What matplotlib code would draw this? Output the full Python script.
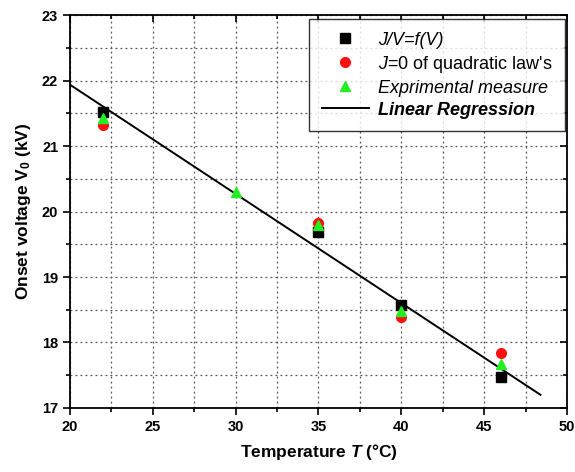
import matplotlib
matplotlib.use("Agg")
import matplotlib.pyplot as plt
import matplotlib.lines as mlines
import numpy as np
from matplotlib.ticker import MultipleLocator

plt.rcParams['font.family'] = ['Liberation Sans', 'DejaVu Sans']
plt.rcParams['mathtext.fontset'] = 'custom'
plt.rcParams['mathtext.rm'] = 'Liberation Sans:bold'
plt.rcParams['mathtext.it'] = 'Liberation Sans:bold:italic'
plt.rcParams['mathtext.bf'] = 'Liberation Sans:bold'
plt.rcParams['mathtext.sf'] = 'Liberation Sans:italic'

# Data
T_jv = [22, 35, 40, 46]
V_jv = [21.52, 19.68, 18.58, 17.48]
T_quad = [22, 35, 40, 46]
V_quad = [21.32, 19.83, 18.39, 17.84]
T_exp = [22, 30, 35, 40, 46]
V_exp = [21.42, 20.30, 19.79, 18.48, 17.67]
reg_intercept = 25.27
reg_slope = -0.1667
reg_T_range = [20, 48.4]

fig = plt.figure(figsize=(5.75, 4.72), dpi=100)
ax = fig.add_axes([0.1217, 0.1356, 0.8643, 0.8326])

ax.set_xlim(20, 50)
ax.set_ylim(17, 23)
ax.xaxis.set_major_locator(MultipleLocator(5))
ax.xaxis.set_minor_locator(MultipleLocator(2.5))
ax.yaxis.set_major_locator(MultipleLocator(1))
ax.yaxis.set_minor_locator(MultipleLocator(0.5))
ax.grid(True, which='both', linestyle=(0, (1.5, 2.5)), color='#555555', linewidth=0.9)
ax.set_axisbelow(True)

Tl = np.array(reg_T_range)
h_line, = ax.plot(Tl, reg_intercept + reg_slope * Tl, color='black', lw=1.4, zorder=2)
h1, = ax.plot(T_jv, V_jv, 's', color='black', ms=6.5, ls='none', zorder=3)
h2, = ax.plot(T_quad, V_quad, 'o', color='#ff1010', ms=7, ls='none', zorder=3)
h3, = ax.plot(T_exp, V_exp, '^', color='#22ee22', ms=7.5, ls='none', zorder=4)

for s in ax.spines.values():
    s.set_linewidth(1.3)
ax.tick_params(axis='both', which='major', direction='out', length=5, width=1.2,
               labelsize=10.5, top=True, right=True)
ax.tick_params(axis='both', which='minor', direction='out', length=3, width=1.2,
               top=True, right=True)
for lab in ax.get_xticklabels() + ax.get_yticklabels():
    lab.set_fontweight('bold')
for t in ax.yaxis.get_major_ticks() + ax.yaxis.get_minor_ticks():
    t.tick2line.set_marker(mlines.TICKLEFT)
for t in ax.xaxis.get_major_ticks() + ax.xaxis.get_minor_ticks():
    t.tick2line.set_marker(mlines.TICKDOWN)

ax.set_xlabel(r'Temperature $\mathit{T}$ (°C)', fontsize=12.5, fontweight='bold', labelpad=6)
ax.set_ylabel(r'Onset voltage $\mathrm{V}_{\mathit{0}}$ (kV)', fontsize=12.5, fontweight='bold', labelpad=6)

leg = ax.legend([h1, h2, h3, h_line],
                ['J/V=f(V)', r'$\mathsf{J}$=0 of quadratic law' + "'s",
                 'Exprimental measure', 'Linear Regression'],
                loc='upper right', bbox_to_anchor=(0.996, 0.99), borderaxespad=0,
                frameon=True, fancybox=False, edgecolor='black', fontsize=13,
                handlelength=2.6, handletextpad=0.5,
                borderpad=0.7, labelspacing=0.28)
leg.get_frame().set_linewidth(1.0)
txts = leg.get_texts()
txts[0].set_fontstyle('italic')
txts[2].set_fontstyle('italic')
txts[3].set_fontstyle('italic')
txts[3].set_fontweight('bold')

fig.savefig('out.png', dpi=100)
